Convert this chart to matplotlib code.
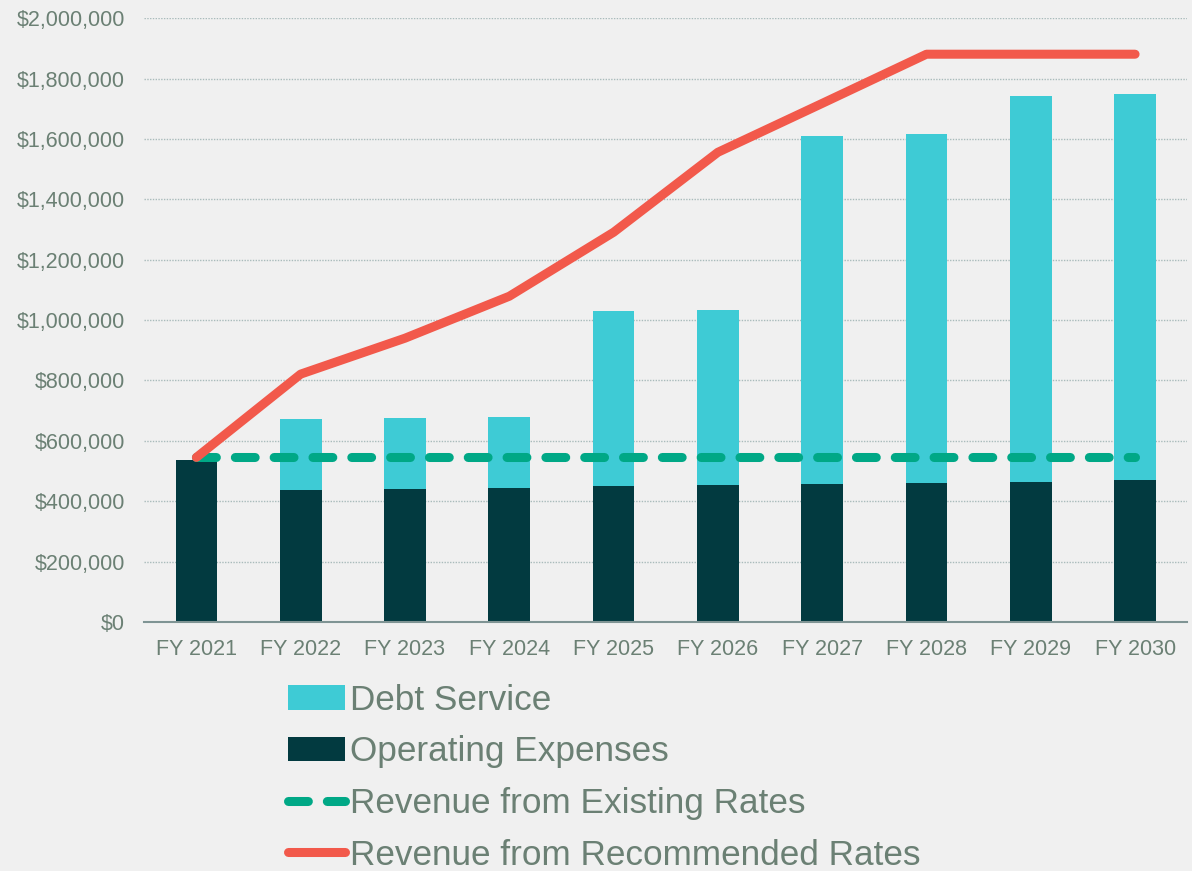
import numpy as np
import matplotlib
matplotlib.use("Agg")
import matplotlib.pyplot as plt
from matplotlib.ticker import FuncFormatter

plt.rcParams['font.family'] = ['Liberation Sans', 'DejaVu Sans']

years = ["FY 2021", "FY 2022", "FY 2023", "FY 2024", "FY 2025",
         "FY 2026", "FY 2027", "FY 2028", "FY 2029", "FY 2030"]
operating = [536000, 437000, 440000, 445000, 450000, 454000, 457000, 460000, 465000, 470000]
total_cost = [536000, 672000, 674000, 679000, 1030000, 1033000, 1610000, 1615000, 1744000, 1748000]
debt_service = [t - o for t, o in zip(total_cost, operating)]
rev_existing = [545000] * 10
rev_recommended = [545000, 821000, 940000, 1079000, 1291000, 1556000, 1718000, 1881000, 1881000, 1881000]

bg = "#f0f0f0"
txt = "#6b8074"

fig = plt.figure(figsize=(11.92, 8.71), dpi=100, facecolor=bg)
ax = fig.add_axes([0.121, 0.286, 0.875, 0.693], facecolor=bg)

x = np.arange(len(years))
b_op = ax.bar(x, operating, width=0.4, color="#023a40", label="Operating Expenses", zorder=2)
b_ds = ax.bar(x, debt_service, width=0.4, bottom=operating, color="#3ecbd5", label="Debt Service", zorder=2)
l_ex, = ax.plot(x, rev_existing, color="#00a886", lw=6.5, dashes=(2.2, 2.1),
                dash_capstyle="round", label="Revenue from Existing Rates", zorder=3)
l_rec, = ax.plot(x, rev_recommended, color="#f2594b", lw=6.5, solid_capstyle="round",
                 solid_joinstyle="round", label="Revenue from Recommended Rates", zorder=4)

ax.set_xlim(-0.5, len(years) - 0.5)
ax.set_ylim(0, 2000000)
ax.set_yticks(np.arange(0, 2000001, 200000))
ax.yaxis.set_major_formatter(FuncFormatter(lambda v, p: f"${v:,.0f}"))
ax.set_xticks(x)
ax.set_xticklabels(years)
ax.tick_params(axis="both", length=0, labelsize=15.5, labelcolor=txt)
ax.tick_params(axis="y", pad=14)
ax.tick_params(axis="x", pad=12)

ax.grid(axis="y", color="#a9bbbb", linestyle=(0, (1, 1)), lw=1, zorder=0)
for s in ["top", "right", "left"]:
    ax.spines[s].set_visible(False)
ax.spines["bottom"].set_color("#7f9494")
ax.spines["bottom"].set_linestyle((0, (1, 1)))
ax.spines["bottom"].set_linewidth(1.5)

handles = [b_ds, b_op, l_ex, l_rec]
fig.legend(handles, [hd.get_label() for hd in handles], loc="upper left",
           bbox_to_anchor=(0.242, 0.215), frameon=False, fontsize=25.3,
           labelcolor=txt, handlelength=1.6, handletextpad=0.15,
           labelspacing=0.53, borderpad=0, borderaxespad=0)

fig.savefig("out.png", dpi=100, facecolor=bg)
